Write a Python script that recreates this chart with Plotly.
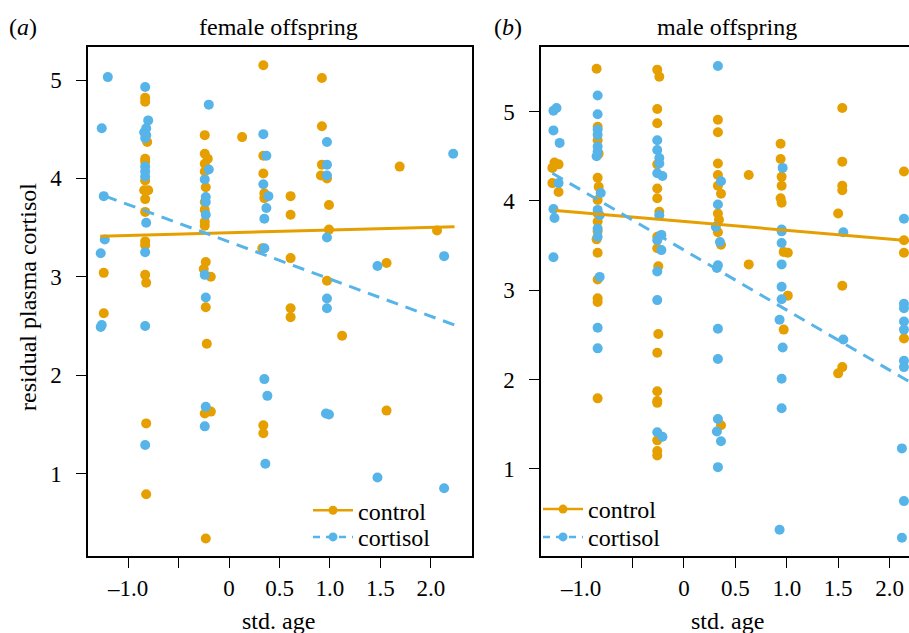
import plotly.graph_objects as go

ORANGE = "#E69F00"
BLUE = "#56B4E9"
FONT = "Liberation Serif, Times New Roman, serif"

# ---------------- data: female offspring ----------------
f_ctrl_x = [-1.24, -1.24,
            -0.83, -0.83, -0.81, -0.83, -0.83, -0.83, -0.80, -0.84, -0.83, -0.83, -0.83, -0.83, -0.83, -0.82, -0.82, -0.82,
            -0.24, -0.24, -0.21, -0.24, -0.24, -0.23, -0.24, -0.24, -0.24, -0.24, -0.23, -0.25, -0.18, -0.23, -0.22, -0.24, -0.18, -0.23,
            0.13,
            0.34, 0.34, 0.34, 0.35, 0.35, 0.33, 0.34, 0.34,
            0.61, 0.61, 0.61, 0.61, 0.61,
            0.92, 0.92, 0.92, 0.91, 0.97, 0.99, 0.99, 0.97,
            1.12, 1.56, 1.56, 1.69, 2.06]
f_ctrl_y = [3.04, 2.63,
            4.82, 4.78, 4.37, 4.20, 4.17, 3.98, 3.88, 3.88, 3.79, 3.66, 3.36, 3.32, 3.02, 2.94, 1.51, 0.79,
            4.44, 4.25, 4.20, 4.15, 4.07, 3.91, 3.76, 3.68, 3.56, 3.52, 3.15, 3.08, 3.00, 2.69, 2.32, 1.61, 1.63, 0.34,
            4.42,
            5.15, 4.23, 4.05, 3.85, 3.80, 3.29, 1.49, 1.41,
            3.82, 3.63, 3.19, 2.68, 2.59,
            5.02, 4.53, 4.14, 4.03, 4.00, 3.73, 3.48, 2.96,
            2.40, 3.14, 1.64, 4.12, 3.47]

f_cort_x = [-1.20, -1.26, -1.24, -1.23, -1.27, -1.26, -1.27,
            -0.83, -0.80, -0.82, -0.84, -0.82, -0.83, -0.83, -0.83, -0.83, -0.82, -0.83, -0.83, -0.83,
            -0.20, -0.20, -0.24, -0.23, -0.23, -0.23, -0.24, -0.23, -0.23, -0.24,
            0.34, 0.37, 0.34, 0.39, 0.37, 0.35, 0.35, 0.35, 0.38, 0.36,
            0.97, 0.97, 0.97, 0.97, 0.97, 0.97, 0.96, 0.99,
            1.47, 1.47, 2.13, 2.13, 2.22]
f_cort_y = [5.03, 4.51, 3.82, 3.38, 3.24, 2.51, 2.49,
            4.93, 4.59, 4.51, 4.47, 4.44, 4.41, 4.12, 4.07, 4.02, 3.55, 3.25, 2.50, 1.29,
            4.75, 4.09, 3.99, 3.81, 3.76, 3.63, 3.02, 2.79, 1.68, 1.48,
            4.45, 4.23, 3.94, 3.82, 3.70, 3.59, 3.29, 1.96, 1.79, 1.10,
            4.37, 4.14, 4.03, 3.40, 2.78, 2.68, 1.61, 1.60,
            3.11, 0.96, 3.21, 0.85, 4.25]

# fitted lines (end points)
f_fit_ctrl_x = [-1.275, 2.233]
f_fit_ctrl_y = [3.413, 3.508]
f_fit_cort_x = [-1.225, 2.233]
f_fit_cort_y = [3.82, 2.51]

# ---------------- data: male offspring ----------------
m_ctrl_x = [-1.26, -1.22, -1.28, -1.28, -1.22,
            -0.85, -0.84, -0.84, -0.83, -0.84, -0.83, -0.84, -0.84, -0.84, -0.84, -0.85, -0.84, -0.84, -0.84, -0.84, -0.84,
            -0.26, -0.24, -0.26, -0.26, -0.26, -0.26, -0.26, -0.24, -0.26, -0.26, -0.25, -0.25, -0.26, -0.26, -0.26, -0.26, -0.26, -0.26, -0.26,
            0.33, 0.33, 0.33, 0.33, 0.33, 0.36, 0.33, 0.34, 0.33, 0.36, 0.36,
            0.63, 0.63,
            0.94, 0.94, 0.95, 0.95, 0.94, 0.95, 0.97, 1.01, 1.01, 0.97,
            1.54, 1.54, 1.54, 1.54, 1.50, 1.54, 1.54, 1.50,
            2.14, 2.14, 2.14, 2.14]
m_ctrl_y = [4.43, 4.41, 4.37, 4.20, 4.10,
            5.48, 4.83, 4.68, 4.53, 4.26, 4.16, 4.01, 3.86, 3.77, 3.66, 3.57, 3.42, 3.12, 2.91, 2.87, 1.79,
            5.47, 5.39, 5.03, 4.87, 4.41, 4.14, 4.03, 3.88, 3.60, 3.47, 3.27, 2.51, 2.30, 1.87, 1.76, 1.74, 1.32, 1.20, 1.15,
            4.91, 4.77, 4.42, 4.29, 4.17, 4.08, 3.86, 3.79, 3.65, 3.51, 1.49,
            4.29, 3.29,
            4.64, 4.47, 4.27, 4.17, 4.03, 3.98, 3.43, 3.42, 2.94, 2.56,
            5.04, 4.44, 4.17, 4.12, 3.86, 3.05, 2.14, 2.07,
            4.33, 3.56, 3.42, 2.46]

m_cort_x = [-1.24, -1.27, -1.27, -1.21, -1.22, -1.27, -1.26, -1.27,
            -0.84, -0.84, -0.84, -0.84, -0.84, -0.84, -0.85, -0.81, -0.84, -0.82, -0.84, -0.84, -0.82, -0.84, -0.84,
            -0.26, -0.26, -0.24, -0.24, -0.26, -0.21, -0.24, -0.22, -0.26, -0.22, -0.26, -0.26, -0.26, -0.21,
            0.33, 0.36, 0.33, 0.31, 0.35, 0.33, 0.32, 0.33, 0.33, 0.33, 0.32, 0.36, 0.33,
            0.96, 0.95, 0.95, 0.95, 0.95, 0.95, 0.95, 0.93, 0.96, 0.95, 0.95, 0.93,
            1.55, 1.55,
            2.14, 2.14, 2.14, 2.14, 2.14, 2.14, 2.14, 2.12, 2.14, 2.12]
m_cort_y = [5.04, 5.01, 4.79, 4.65, 4.20, 3.91, 3.81, 3.37,
            5.18, 4.97, 4.80, 4.74, 4.61, 4.55, 4.50, 4.09, 3.90, 3.84, 3.69, 3.60, 3.15, 2.58, 2.35,
            4.68, 4.57, 4.48, 4.42, 4.31, 4.28, 3.84, 3.62, 3.56, 3.45, 3.21, 2.89, 1.41, 1.36,
            5.51, 4.22, 3.96, 3.71, 3.54, 3.28, 3.25, 2.57, 2.23, 1.56, 1.42, 1.31, 1.02,
            4.37, 3.68, 3.66, 3.53, 3.29, 3.04, 2.90, 2.67, 2.36, 2.01, 1.68, 0.32,
            3.65, 2.45,
            3.80, 2.85, 2.80, 2.65, 2.56, 2.21, 2.14, 1.23, 0.64, 0.23]

m_fit_ctrl_x = [-1.25, 2.233]
m_fit_ctrl_y = [3.893, 3.55]
m_fit_cort_x = [-1.28, 2.233]
m_fit_cort_y = [4.31, 1.95]

x_tickvals = [-1.0, -0.5, 0, 0.5, 1.0, 1.5, 2.0]
x_ticktext = ["\u20131.0", "", "0", "0.5", "1.0", "1.5", "2.0"]
y_tickvals = [1, 2, 3, 4, 5]
y_ticktext = ["1", "2", "3", "4", "5"]

panel_titles = ["female offspring", "male offspring"]
panel_letters = ["(<i>a</i>)", "(<i>b</i>)"]
legend_names = ["control", "cortisol"]

fig = go.Figure()

MS = 10
LW = 3
DASH = "12px,8px"
TS = 24   # text size
KS = 23   # tick size

def add_panel(xa, ya, lg_a, lg_b, cx, cy, kx, ky, fcx, fcy, fkx, fky):
    fig.add_trace(go.Scatter(x=cx, y=cy, mode="markers", xaxis=xa, yaxis=ya,
                             marker=dict(color=ORANGE, size=MS), showlegend=False, hoverinfo="skip"))
    fig.add_trace(go.Scatter(x=kx, y=ky, mode="markers", xaxis=xa, yaxis=ya,
                             marker=dict(color=BLUE, size=MS), showlegend=False, hoverinfo="skip"))
    fig.add_trace(go.Scatter(x=fcx, y=fcy, mode="lines", xaxis=xa, yaxis=ya,
                             line=dict(color=ORANGE, width=LW), showlegend=False))
    fig.add_trace(go.Scatter(x=fkx, y=fky, mode="lines", xaxis=xa, yaxis=ya,
                             line=dict(color=BLUE, width=LW, dash=DASH), showlegend=False))
    fig.add_trace(go.Scatter(x=[None], y=[None], mode="lines+markers", xaxis=xa, yaxis=ya,
                             name=legend_names[0], legend=lg_a,
                             line=dict(color=ORANGE, width=2.5), marker=dict(color=ORANGE, size=9)))
    fig.add_trace(go.Scatter(x=[None], y=[None], mode="lines+markers", xaxis=xa, yaxis=ya,
                             name=legend_names[1], legend=lg_b,
                             line=dict(color=BLUE, width=2.5, dash="7px,6px"), marker=dict(color=BLUE, size=9)))

add_panel("x", "y", "legend", "legend3", f_ctrl_x, f_ctrl_y, f_cort_x, f_cort_y,
          f_fit_ctrl_x, f_fit_ctrl_y, f_fit_cort_x, f_fit_cort_y)
add_panel("x2", "y2", "legend2", "legend4", m_ctrl_x, m_ctrl_y, m_cort_x, m_cort_y,
          m_fit_ctrl_x, m_fit_ctrl_y, m_fit_cort_x, m_fit_cort_y)

W, H = 909, 633
L1, R1 = 88, 472
L2, R2 = 541, 909
TOP, BOT = 46.7, 556.3

axis_font = dict(family=FONT, size=KS, color="black")
common_x = dict(tickvals=x_tickvals, ticktext=x_ticktext, ticks="outside", ticklen=10,
                tickwidth=1.3, tickcolor="black", showline=True, linecolor="black", linewidth=1.5,
                showgrid=False, zeroline=False, tickfont=axis_font, mirror=True)
common_y = dict(tickvals=y_tickvals, ticktext=y_ticktext, ticks="outside", ticklen=10,
                tickwidth=1.3, tickcolor="black", showline=True, linecolor="black", linewidth=1.5,
                showgrid=False, zeroline=False, tickfont=axis_font, ticklabelstandoff=10)

ydom = [(H - BOT) / H, (H - TOP) / H]

def leg(xpix, ypix):
    return dict(x=xpix / W, xanchor="left", y=1 - ypix / H, yanchor="middle",
                bgcolor="rgba(0,0,0,0)", font=dict(family=FONT, size=TS), itemwidth=40)

fig.update_layout(
    width=W, height=H,
    margin=dict(l=0, r=0, t=0, b=0),
    paper_bgcolor="white", plot_bgcolor="white",
    font=dict(family=FONT, size=TS, color="black"),
    xaxis=dict(domain=[L1 / W, R1 / W], range=[-1.396, 2.406], anchor="y", **common_x),
    yaxis=dict(domain=ydom, range=[0.159, 5.339], anchor="x", mirror=True, **common_y),
    xaxis2=dict(domain=[L2 / W, R2 / W], range=[-1.391, 2.189], anchor="y2", **common_x),
    yaxis2=dict(domain=ydom, range=[0.022, 5.727], anchor="x2", **common_y),
    legend=leg(313 - 5, 510.7),
    legend3=leg(313 - 5, 537.3),
    legend2=leg(543 - 5, 509.5),
    legend4=leg(543 - 5, 537.3),
    showlegend=True,
)

annos = []
for cx, letter_x, title, letter in [(278, 23, panel_titles[0], panel_letters[0]),
                                    (727, 508, panel_titles[1], panel_letters[1])]:
    annos.append(dict(x=cx / W, y=1 - 27 / H, xref="paper", yref="paper", text=title,
                      showarrow=False, xanchor="center", yanchor="middle", font=dict(size=TS)))
    annos.append(dict(x=letter_x / W, y=1 - 27 / H, xref="paper", yref="paper", text=letter,
                      showarrow=False, xanchor="center", yanchor="middle", font=dict(size=TS)))
    annos.append(dict(x=cx / W, y=1 - 621 / H, xref="paper", yref="paper", text="std. age",
                      showarrow=False, xanchor="center", yanchor="middle", font=dict(size=TS)))
annos.append(dict(x=28 / W, y=1 - 297 / H, xref="paper", yref="paper",
                  text="residual plasma cortisol", showarrow=False, textangle=-90,
                  xanchor="center", yanchor="middle", font=dict(size=TS)))
fig.update_layout(annotations=annos)

fig.write_html("out.html", config={"displayModeBar": False},
               post_script="document.body.style.margin='0';document.body.style.overflow='hidden';")
